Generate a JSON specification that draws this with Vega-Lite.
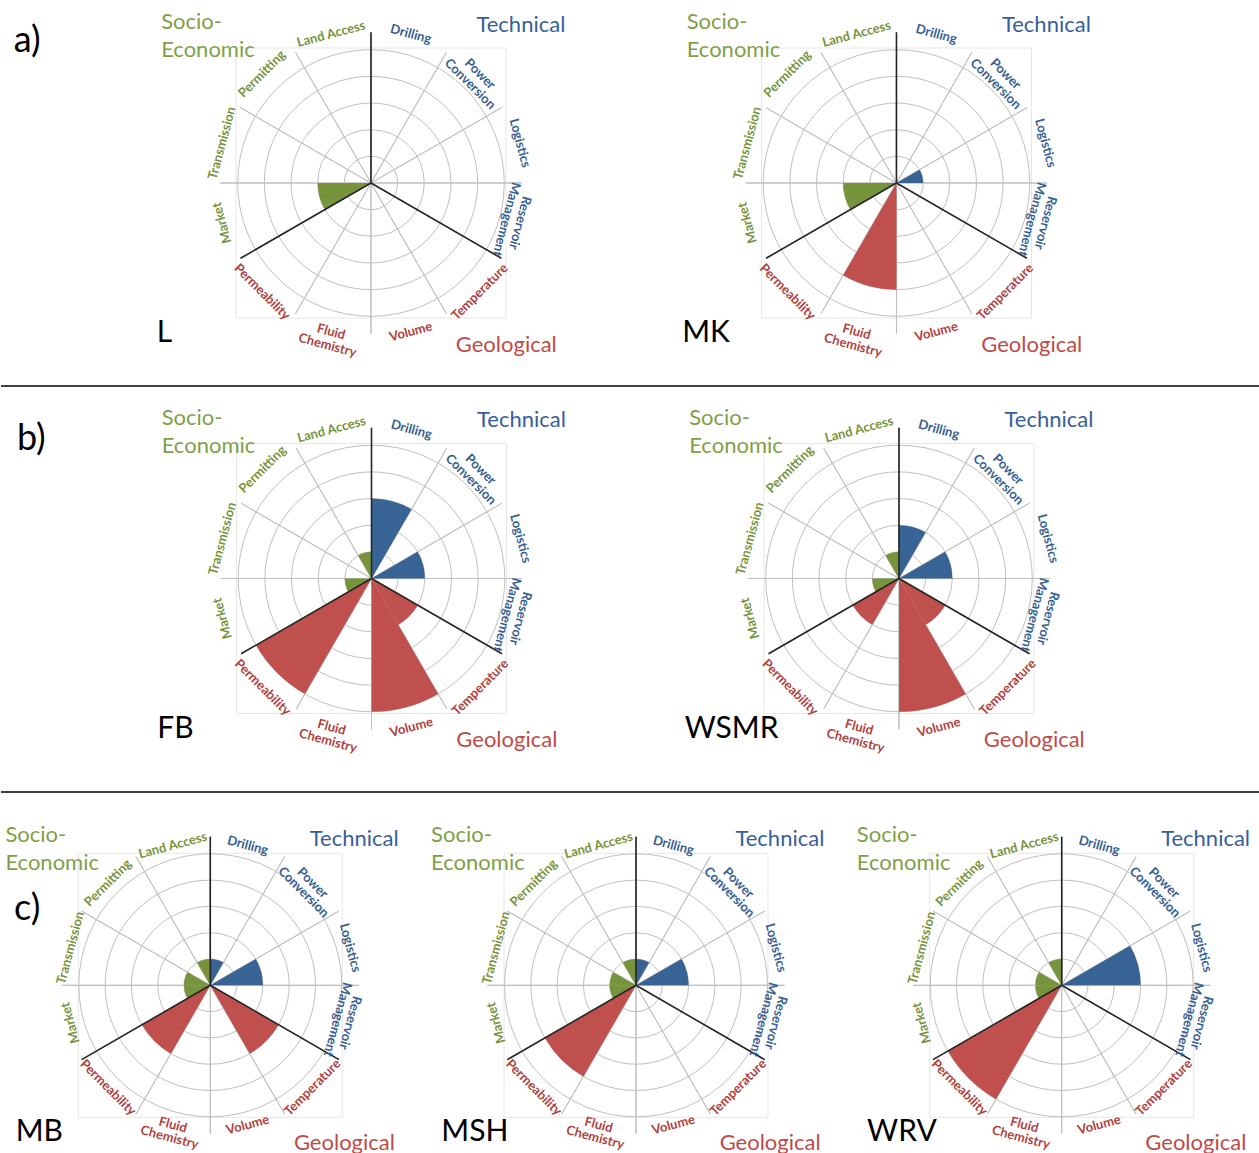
{
  "$schema": "https://vega.github.io/schema/vega-lite/v6.json",
  "background": "white",
  "padding": 0,
  "config": {"view": {"stroke": null}, "font": "Lato", "text": {"font": "Lato"}},
  "datasets": {
    "cats": [
      {"n": 1, "category": "Drilling", "label": "Drilling", "group": "Technical"},
      {"n": 2, "category": "Power Conversion", "label": "Power|Conversion", "group": "Technical"},
      {"n": 3, "category": "Logistics", "label": "Logistics", "group": "Technical"},
      {"n": 4, "category": "Reservoir Management", "label": "Reservoir|Management", "group": "Technical"},
      {"n": 5, "category": "Temperature", "label": "Temperature", "group": "Geological"},
      {"n": 6, "category": "Volume", "label": "Volume", "group": "Geological"},
      {"n": 7, "category": "Fluid Chemistry", "label": "Fluid|Chemistry", "group": "Geological"},
      {"n": 8, "category": "Permeability", "label": "Permeability", "group": "Geological"},
      {"n": 9, "category": "Market", "label": "Market", "group": "Socio-Economic"},
      {"n": 10, "category": "Transmission", "label": "Transmission", "group": "Socio-Economic"},
      {"n": 11, "category": "Permitting", "label": "Permitting", "group": "Socio-Economic"},
      {"n": 12, "category": "Land Access", "label": "Land Access", "group": "Socio-Economic"}
    ],
    "rings": [{"ring": 1}, {"ring": 2}, {"ring": 3}, {"ring": 4}, {"ring": 5}],
    "sites": [{"site": "L"}, {"site": "MK"}, {"site": "FB"}, {"site": "WSMR"}, {"site": "MB"}, {"site": "MSH"}, {"site": "WRV"}],
    "scores": [
      {"site": "L", "category": "Market", "score": 2},
      {"site": "MK", "category": "Logistics", "score": 1},
      {"site": "MK", "category": "Fluid Chemistry", "score": 4},
      {"site": "MK", "category": "Market", "score": 2},
      {"site": "FB", "category": "Drilling", "score": 3},
      {"site": "FB", "category": "Logistics", "score": 2},
      {"site": "FB", "category": "Temperature", "score": 2},
      {"site": "FB", "category": "Volume", "score": 5},
      {"site": "FB", "category": "Permeability", "score": 5},
      {"site": "FB", "category": "Market", "score": 1},
      {"site": "FB", "category": "Land Access", "score": 1},
      {"site": "WSMR", "category": "Drilling", "score": 2},
      {"site": "WSMR", "category": "Logistics", "score": 2},
      {"site": "WSMR", "category": "Temperature", "score": 2},
      {"site": "WSMR", "category": "Volume", "score": 5},
      {"site": "WSMR", "category": "Permeability", "score": 2},
      {"site": "WSMR", "category": "Market", "score": 1},
      {"site": "WSMR", "category": "Land Access", "score": 1},
      {"site": "MB", "category": "Drilling", "score": 1},
      {"site": "MB", "category": "Logistics", "score": 2},
      {"site": "MB", "category": "Temperature", "score": 3},
      {"site": "MB", "category": "Permeability", "score": 3},
      {"site": "MB", "category": "Market", "score": 1},
      {"site": "MB", "category": "Transmission", "score": 1},
      {"site": "MB", "category": "Land Access", "score": 1},
      {"site": "MSH", "category": "Drilling", "score": 1},
      {"site": "MSH", "category": "Logistics", "score": 2},
      {"site": "MSH", "category": "Permeability", "score": 4},
      {"site": "MSH", "category": "Market", "score": 1},
      {"site": "MSH", "category": "Transmission", "score": 1},
      {"site": "MSH", "category": "Land Access", "score": 1},
      {"site": "WRV", "category": "Logistics", "score": 3},
      {"site": "WRV", "category": "Permeability", "score": 5},
      {"site": "WRV", "category": "Market", "score": 1},
      {"site": "WRV", "category": "Transmission", "score": 1},
      {"site": "WRV", "category": "Land Access", "score": 1}
    ]
  },
  "spacing": 0,
  "vconcat": [
    {
      "width": 1259, "height": 386,
      "encoding": {"y": {"datum": 0, "type": "quantitative", "axis": null, "scale": {"domain": [-7.6125, 6.8625], "nice": false, "zero": false}}},
      "layer": [
        {"data": {"name": "sites"}, "transform": [{"filter": {"field": "site", "oneOf": ["L", "MK"]}}],
         "mark": {"type": "square", "size": 72900, "filled": false, "stroke": "#E6E6E6", "strokeWidth": 1, "opacity": 1},
         "encoding": {"x": {"field": "site", "type": "nominal", "axis": null, "scale": {"type": "point", "domain": ["L", "MK"], "padding": 0.6979, "align": 0.5044}}}},
        {"data": {"name": "rings"}, "mark": {"type": "arc", "theta": 0, "theta2": 6.283185, "fill": null, "stroke": "#BFBFBF", "strokeWidth": 1},
         "encoding": {"x": {"datum": "L", "type": "nominal", "axis": null, "scale": {"type": "point", "domain": ["L", "MK"], "padding": 0.6979, "align": 0.5044}}, "radius": {"field": "ring", "type": "quantitative", "stack": null, "scale": {"type": "linear", "domain": [0, 5], "range": [0, 133.3], "nice": false}}}},
        {"data": {"name": "rings"}, "mark": {"type": "arc", "theta": 0, "theta2": 6.283185, "fill": null, "stroke": "#BFBFBF", "strokeWidth": 1},
         "encoding": {"x": {"datum": "MK", "type": "nominal", "axis": null, "scale": {"type": "point", "domain": ["L", "MK"], "padding": 0.6979, "align": 0.5044}}, "radius": {"field": "ring", "type": "quantitative", "stack": null, "scale": {"type": "linear", "domain": [0, 5], "range": [0, 133.3], "nice": false}}}},
        {"data": {"name": "cats"}, "transform": [{"calculate": "datum.n - 1", "as": "n0"}], "mark": {"type": "arc", "fill": null, "stroke": "#BFBFBF", "strokeWidth": 1},
         "encoding": {"x": {"datum": "L", "type": "nominal", "axis": null, "scale": {"type": "point", "domain": ["L", "MK"], "padding": 0.6979, "align": 0.5044}}, "theta": {"field": "n0", "type": "quantitative", "stack": null, "scale": {"domain": [0, 12], "range": [0, 6.283185], "nice": false, "zero": false}}, "theta2": {"field": "n0"}, "radius": {"datum": 5.65, "type": "quantitative", "stack": null, "scale": {"type": "linear", "domain": [0, 5], "range": [0, 133.3], "nice": false}}}},
        {"data": {"name": "cats"}, "transform": [{"calculate": "datum.n - 1", "as": "n0"}], "mark": {"type": "arc", "fill": null, "stroke": "#BFBFBF", "strokeWidth": 1},
         "encoding": {"x": {"datum": "MK", "type": "nominal", "axis": null, "scale": {"type": "point", "domain": ["L", "MK"], "padding": 0.6979, "align": 0.5044}}, "theta": {"field": "n0", "type": "quantitative", "stack": null, "scale": {"domain": [0, 12], "range": [0, 6.283185], "nice": false, "zero": false}}, "theta2": {"field": "n0"}, "radius": {"datum": 5.65, "type": "quantitative", "stack": null, "scale": {"type": "linear", "domain": [0, 5], "range": [0, 133.3], "nice": false}}}},
        {"data": {"name": "scores"}, "transform": [{"filter": {"field": "site", "oneOf": ["L", "MK"]}}, {"lookup": "category", "from": {"data": {"name": "cats"}, "key": "category", "fields": ["n", "group"]}}, {"calculate": "datum.n - 1", "as": "n0"}],
         "mark": {"type": "arc"},
         "encoding": {"x": {"field": "site", "type": "nominal", "axis": null, "scale": {"type": "point", "domain": ["L", "MK"], "padding": 0.6979, "align": 0.5044}}, "theta": {"field": "n0", "type": "quantitative", "stack": null, "scale": {"domain": [0, 12], "range": [0, 6.283185], "nice": false, "zero": false}}, "theta2": {"field": "n"}, "radius": {"field": "score", "type": "quantitative", "stack": null, "scale": {"type": "linear", "domain": [0, 5], "range": [0, 133.3], "nice": false}}, "color": {"field": "group", "type": "nominal", "legend": null, "scale": {"domain": ["Technical", "Geological", "Socio-Economic"], "range": ["#386395", "#C0504D", "#77933C"]}}}},
        {"data": {"name": "cats"}, "transform": [{"filter": "datum.n % 4 === 1"}, {"calculate": "datum.n - 1", "as": "n0"}], "mark": {"type": "arc", "fill": null, "stroke": "#262626", "strokeWidth": 1.6},
         "encoding": {"x": {"datum": "L", "type": "nominal", "axis": null, "scale": {"type": "point", "domain": ["L", "MK"], "padding": 0.6979, "align": 0.5044}}, "theta": {"field": "n0", "type": "quantitative", "stack": null, "scale": {"domain": [0, 12], "range": [0, 6.283185], "nice": false, "zero": false}}, "theta2": {"field": "n0"}, "radius": {"datum": 5.65, "type": "quantitative", "stack": null, "scale": {"type": "linear", "domain": [0, 5], "range": [0, 133.3], "nice": false}}}},
        {"data": {"name": "cats"}, "transform": [{"filter": "datum.n % 4 === 1"}, {"calculate": "datum.n - 1", "as": "n0"}], "mark": {"type": "arc", "fill": null, "stroke": "#262626", "strokeWidth": 1.6},
         "encoding": {"x": {"datum": "MK", "type": "nominal", "axis": null, "scale": {"type": "point", "domain": ["L", "MK"], "padding": 0.6979, "align": 0.5044}}, "theta": {"field": "n0", "type": "quantitative", "stack": null, "scale": {"domain": [0, 12], "range": [0, 6.283185], "nice": false, "zero": false}}, "theta2": {"field": "n0"}, "radius": {"datum": 5.65, "type": "quantitative", "stack": null, "scale": {"type": "linear", "domain": [0, 5], "range": [0, 133.3], "nice": false}}}},
        {"data": {"name": "cats"}, "transform": [{"calculate": "datum.n * 30 - 15", "as": "deg"}, {"calculate": "datum.deg > 120 && datum.deg < 240 ? datum.deg - 180 : (datum.deg > 240 ? datum.deg - 360 : datum.deg)", "as": "rot"}, {"calculate": "datum.n - 0.5", "as": "nm"}],
         "mark": {"type": "text", "fontWeight": "bold", "fontSize": 13, "lineBreak": "|", "lineHeight": 14, "align": "center", "baseline": "middle"},
         "encoding": {"x": {"datum": "L", "type": "nominal", "axis": null, "scale": {"type": "point", "domain": ["L", "MK"], "padding": 0.6979, "align": 0.5044}}, "theta": {"field": "nm", "type": "quantitative", "stack": null, "scale": {"domain": [0, 12], "range": [0, 6.283185], "nice": false, "zero": false}}, "radius": {"datum": 5.78, "type": "quantitative", "stack": null, "scale": {"type": "linear", "domain": [0, 5], "range": [0, 133.3], "nice": false}}, "text": {"field": "label"}, "angle": {"field": "rot", "type": "quantitative", "scale": null}, "fill": {"field": "group", "type": "nominal", "legend": null, "scale": {"domain": ["Technical", "Geological", "Socio-Economic"], "range": ["#376092", "#B0413E", "#77933C"]}}}},
        {"data": {"name": "cats"}, "transform": [{"calculate": "datum.n * 30 - 15", "as": "deg"}, {"calculate": "datum.deg > 120 && datum.deg < 240 ? datum.deg - 180 : (datum.deg > 240 ? datum.deg - 360 : datum.deg)", "as": "rot"}, {"calculate": "datum.n - 0.5", "as": "nm"}],
         "mark": {"type": "text", "fontWeight": "bold", "fontSize": 13, "lineBreak": "|", "lineHeight": 14, "align": "center", "baseline": "middle"},
         "encoding": {"x": {"datum": "MK", "type": "nominal", "axis": null, "scale": {"type": "point", "domain": ["L", "MK"], "padding": 0.6979, "align": 0.5044}}, "theta": {"field": "nm", "type": "quantitative", "stack": null, "scale": {"domain": [0, 12], "range": [0, 6.283185], "nice": false, "zero": false}}, "radius": {"datum": 5.78, "type": "quantitative", "stack": null, "scale": {"type": "linear", "domain": [0, 5], "range": [0, 133.3], "nice": false}}, "text": {"field": "label"}, "angle": {"field": "rot", "type": "quantitative", "scale": null}, "fill": {"field": "group", "type": "nominal", "legend": null, "scale": {"domain": ["Technical", "Geological", "Socio-Economic"], "range": ["#376092", "#B0413E", "#77933C"]}}}},
        {"data": {"name": "sites"}, "transform": [{"filter": {"field": "site", "oneOf": ["L", "MK"]}}],
         "mark": {"type": "text", "text": "Socio-|Economic", "lineBreak": "|", "lineHeight": 28, "align": "left", "baseline": "alphabetic", "fontSize": 22, "color": "#7F9F48"},
         "encoding": {"x": {"field": "site", "type": "nominal", "axis": null, "scale": {"type": "point", "domain": ["L", "MK"], "padding": 0.6979, "align": 0.5044}}, "theta": {"datum": -1.7933, "type": "quantitative", "stack": null}, "radius": {"datum": 9.753, "type": "quantitative", "stack": null}}},
        {"data": {"name": "sites"}, "transform": [{"filter": {"field": "site", "oneOf": ["L", "MK"]}}],
         "mark": {"type": "text", "text": "Technical", "align": "right", "baseline": "alphabetic", "fontSize": 22, "color": "#36609A"},
         "encoding": {"x": {"field": "site", "type": "nominal", "axis": null, "scale": {"type": "point", "domain": ["L", "MK"], "padding": 0.6979, "align": 0.5044}}, "theta": {"datum": 1.7377, "type": "quantitative", "stack": null}, "radius": {"datum": 9.235, "type": "quantitative", "stack": null}}},
        {"data": {"name": "sites"}, "transform": [{"filter": {"field": "site", "oneOf": ["L", "MK"]}}],
         "mark": {"type": "text", "text": "Geological", "align": "right", "baseline": "alphabetic", "fontSize": 22, "color": "#BE4B48"},
         "encoding": {"x": {"field": "site", "type": "nominal", "axis": null, "scale": {"type": "point", "domain": ["L", "MK"], "padding": 0.6979, "align": 0.5044}}, "theta": {"datum": 4.4067, "type": "quantitative", "stack": null}, "radius": {"datum": 9.409, "type": "quantitative", "stack": null}}},
        {"data": {"name": "sites"}, "transform": [{"filter": {"field": "site", "oneOf": ["L", "MK"]}}],
         "mark": {"type": "text", "align": "left", "baseline": "alphabetic", "fontSize": 30, "color": "black"},
         "encoding": {"x": {"field": "site", "type": "nominal", "axis": null, "scale": {"type": "point", "domain": ["L", "MK"], "padding": 0.6979, "align": 0.5044}}, "theta": {"datum": -4.22, "type": "quantitative", "stack": null}, "radius": {"datum": 10.014, "type": "quantitative", "stack": null}, "text": {"field": "site"}}},
        {"data": {"values": [{}]},
         "mark": {"type": "text", "text": "a)", "align": "left", "baseline": "alphabetic", "fontSize": 36, "color": "black"},
         "encoding": {"x": {"datum": "L", "type": "nominal", "axis": null, "scale": {"type": "point", "domain": ["L", "MK"], "padding": 0.6979, "align": 0.5044}}, "theta": {"datum": -2.33, "type": "quantitative", "stack": null}, "radius": {"datum": 14.268, "type": "quantitative", "stack": null}}},
        {"data": {"values": [{}]}, "mark": {"type": "rule", "color": "black", "strokeWidth": 1.5},
         "encoding": {"y": {"datum": -7.6125, "type": "quantitative"}}}
      ]
    },
    {
      "width": 1259, "height": 405,
      "encoding": {"y": {"datum": 0, "type": "quantitative", "axis": null, "scale": {"domain": [-8.006, 7.181], "nice": false, "zero": false}}},
      "layer": [
        {"data": {"name": "sites"}, "transform": [{"filter": {"field": "site", "oneOf": ["FB", "WSMR"]}}],
         "mark": {"type": "square", "size": 72900, "filled": false, "stroke": "#E6E6E6", "strokeWidth": 1, "opacity": 1},
         "encoding": {"x": {"field": "site", "type": "nominal", "axis": null, "scale": {"type": "point", "domain": ["FB", "WSMR"], "padding": 0.6934, "align": 0.5065}}}},
        {"data": {"name": "rings"}, "mark": {"type": "arc", "theta": 0, "theta2": 6.283185, "fill": null, "stroke": "#BFBFBF", "strokeWidth": 1},
         "encoding": {"x": {"datum": "FB", "type": "nominal", "axis": null, "scale": {"type": "point", "domain": ["FB", "WSMR"], "padding": 0.6934, "align": 0.5065}}, "radius": {"field": "ring", "type": "quantitative", "stack": null, "scale": {"type": "linear", "domain": [0, 5], "range": [0, 133.3], "nice": false}}}},
        {"data": {"name": "rings"}, "mark": {"type": "arc", "theta": 0, "theta2": 6.283185, "fill": null, "stroke": "#BFBFBF", "strokeWidth": 1},
         "encoding": {"x": {"datum": "WSMR", "type": "nominal", "axis": null, "scale": {"type": "point", "domain": ["FB", "WSMR"], "padding": 0.6934, "align": 0.5065}}, "radius": {"field": "ring", "type": "quantitative", "stack": null, "scale": {"type": "linear", "domain": [0, 5], "range": [0, 133.3], "nice": false}}}},
        {"data": {"name": "cats"}, "transform": [{"calculate": "datum.n - 1", "as": "n0"}], "mark": {"type": "arc", "fill": null, "stroke": "#BFBFBF", "strokeWidth": 1},
         "encoding": {"x": {"datum": "FB", "type": "nominal", "axis": null, "scale": {"type": "point", "domain": ["FB", "WSMR"], "padding": 0.6934, "align": 0.5065}}, "theta": {"field": "n0", "type": "quantitative", "stack": null, "scale": {"domain": [0, 12], "range": [0, 6.283185], "nice": false, "zero": false}}, "theta2": {"field": "n0"}, "radius": {"datum": 5.65, "type": "quantitative", "stack": null, "scale": {"type": "linear", "domain": [0, 5], "range": [0, 133.3], "nice": false}}}},
        {"data": {"name": "cats"}, "transform": [{"calculate": "datum.n - 1", "as": "n0"}], "mark": {"type": "arc", "fill": null, "stroke": "#BFBFBF", "strokeWidth": 1},
         "encoding": {"x": {"datum": "WSMR", "type": "nominal", "axis": null, "scale": {"type": "point", "domain": ["FB", "WSMR"], "padding": 0.6934, "align": 0.5065}}, "theta": {"field": "n0", "type": "quantitative", "stack": null, "scale": {"domain": [0, 12], "range": [0, 6.283185], "nice": false, "zero": false}}, "theta2": {"field": "n0"}, "radius": {"datum": 5.65, "type": "quantitative", "stack": null, "scale": {"type": "linear", "domain": [0, 5], "range": [0, 133.3], "nice": false}}}},
        {"data": {"name": "scores"}, "transform": [{"filter": {"field": "site", "oneOf": ["FB", "WSMR"]}}, {"lookup": "category", "from": {"data": {"name": "cats"}, "key": "category", "fields": ["n", "group"]}}, {"calculate": "datum.n - 1", "as": "n0"}],
         "mark": {"type": "arc"},
         "encoding": {"x": {"field": "site", "type": "nominal", "axis": null, "scale": {"type": "point", "domain": ["FB", "WSMR"], "padding": 0.6934, "align": 0.5065}}, "theta": {"field": "n0", "type": "quantitative", "stack": null, "scale": {"domain": [0, 12], "range": [0, 6.283185], "nice": false, "zero": false}}, "theta2": {"field": "n"}, "radius": {"field": "score", "type": "quantitative", "stack": null, "scale": {"type": "linear", "domain": [0, 5], "range": [0, 133.3], "nice": false}}, "color": {"field": "group", "type": "nominal", "legend": null, "scale": {"domain": ["Technical", "Geological", "Socio-Economic"], "range": ["#386395", "#C0504D", "#77933C"]}}}},
        {"data": {"name": "cats"}, "transform": [{"filter": "datum.n % 4 === 1"}, {"calculate": "datum.n - 1", "as": "n0"}], "mark": {"type": "arc", "fill": null, "stroke": "#262626", "strokeWidth": 1.6},
         "encoding": {"x": {"datum": "FB", "type": "nominal", "axis": null, "scale": {"type": "point", "domain": ["FB", "WSMR"], "padding": 0.6934, "align": 0.5065}}, "theta": {"field": "n0", "type": "quantitative", "stack": null, "scale": {"domain": [0, 12], "range": [0, 6.283185], "nice": false, "zero": false}}, "theta2": {"field": "n0"}, "radius": {"datum": 5.65, "type": "quantitative", "stack": null, "scale": {"type": "linear", "domain": [0, 5], "range": [0, 133.3], "nice": false}}}},
        {"data": {"name": "cats"}, "transform": [{"filter": "datum.n % 4 === 1"}, {"calculate": "datum.n - 1", "as": "n0"}], "mark": {"type": "arc", "fill": null, "stroke": "#262626", "strokeWidth": 1.6},
         "encoding": {"x": {"datum": "WSMR", "type": "nominal", "axis": null, "scale": {"type": "point", "domain": ["FB", "WSMR"], "padding": 0.6934, "align": 0.5065}}, "theta": {"field": "n0", "type": "quantitative", "stack": null, "scale": {"domain": [0, 12], "range": [0, 6.283185], "nice": false, "zero": false}}, "theta2": {"field": "n0"}, "radius": {"datum": 5.65, "type": "quantitative", "stack": null, "scale": {"type": "linear", "domain": [0, 5], "range": [0, 133.3], "nice": false}}}},
        {"data": {"name": "cats"}, "transform": [{"calculate": "datum.n * 30 - 15", "as": "deg"}, {"calculate": "datum.deg > 120 && datum.deg < 240 ? datum.deg - 180 : (datum.deg > 240 ? datum.deg - 360 : datum.deg)", "as": "rot"}, {"calculate": "datum.n - 0.5", "as": "nm"}],
         "mark": {"type": "text", "fontWeight": "bold", "fontSize": 13, "lineBreak": "|", "lineHeight": 14, "align": "center", "baseline": "middle"},
         "encoding": {"x": {"datum": "FB", "type": "nominal", "axis": null, "scale": {"type": "point", "domain": ["FB", "WSMR"], "padding": 0.6934, "align": 0.5065}}, "theta": {"field": "nm", "type": "quantitative", "stack": null, "scale": {"domain": [0, 12], "range": [0, 6.283185], "nice": false, "zero": false}}, "radius": {"datum": 5.78, "type": "quantitative", "stack": null, "scale": {"type": "linear", "domain": [0, 5], "range": [0, 133.3], "nice": false}}, "text": {"field": "label"}, "angle": {"field": "rot", "type": "quantitative", "scale": null}, "fill": {"field": "group", "type": "nominal", "legend": null, "scale": {"domain": ["Technical", "Geological", "Socio-Economic"], "range": ["#376092", "#B0413E", "#77933C"]}}}},
        {"data": {"name": "cats"}, "transform": [{"calculate": "datum.n * 30 - 15", "as": "deg"}, {"calculate": "datum.deg > 120 && datum.deg < 240 ? datum.deg - 180 : (datum.deg > 240 ? datum.deg - 360 : datum.deg)", "as": "rot"}, {"calculate": "datum.n - 0.5", "as": "nm"}],
         "mark": {"type": "text", "fontWeight": "bold", "fontSize": 13, "lineBreak": "|", "lineHeight": 14, "align": "center", "baseline": "middle"},
         "encoding": {"x": {"datum": "WSMR", "type": "nominal", "axis": null, "scale": {"type": "point", "domain": ["FB", "WSMR"], "padding": 0.6934, "align": 0.5065}}, "theta": {"field": "nm", "type": "quantitative", "stack": null, "scale": {"domain": [0, 12], "range": [0, 6.283185], "nice": false, "zero": false}}, "radius": {"datum": 5.78, "type": "quantitative", "stack": null, "scale": {"type": "linear", "domain": [0, 5], "range": [0, 133.3], "nice": false}}, "text": {"field": "label"}, "angle": {"field": "rot", "type": "quantitative", "scale": null}, "fill": {"field": "group", "type": "nominal", "legend": null, "scale": {"domain": ["Technical", "Geological", "Socio-Economic"], "range": ["#376092", "#B0413E", "#77933C"]}}}},
        {"data": {"name": "sites"}, "transform": [{"filter": {"field": "site", "oneOf": ["FB", "WSMR"]}}],
         "mark": {"type": "text", "text": "Socio-|Economic", "lineBreak": "|", "lineHeight": 28, "align": "left", "baseline": "alphabetic", "fontSize": 22, "color": "#7F9F48"},
         "encoding": {"x": {"field": "site", "type": "nominal", "axis": null, "scale": {"type": "point", "domain": ["FB", "WSMR"], "padding": 0.6934, "align": 0.5065}}, "theta": {"datum": -1.7933, "type": "quantitative", "stack": null}, "radius": {"datum": 9.753, "type": "quantitative", "stack": null}}},
        {"data": {"name": "sites"}, "transform": [{"filter": {"field": "site", "oneOf": ["FB", "WSMR"]}}],
         "mark": {"type": "text", "text": "Technical", "align": "right", "baseline": "alphabetic", "fontSize": 22, "color": "#36609A"},
         "encoding": {"x": {"field": "site", "type": "nominal", "axis": null, "scale": {"type": "point", "domain": ["FB", "WSMR"], "padding": 0.6934, "align": 0.5065}}, "theta": {"datum": 1.7377, "type": "quantitative", "stack": null}, "radius": {"datum": 9.235, "type": "quantitative", "stack": null}}},
        {"data": {"name": "sites"}, "transform": [{"filter": {"field": "site", "oneOf": ["FB", "WSMR"]}}],
         "mark": {"type": "text", "text": "Geological", "align": "right", "baseline": "alphabetic", "fontSize": 22, "color": "#BE4B48"},
         "encoding": {"x": {"field": "site", "type": "nominal", "axis": null, "scale": {"type": "point", "domain": ["FB", "WSMR"], "padding": 0.6934, "align": 0.5065}}, "theta": {"datum": 4.4067, "type": "quantitative", "stack": null}, "radius": {"datum": 9.409, "type": "quantitative", "stack": null}}},
        {"data": {"name": "sites"}, "transform": [{"filter": {"field": "site", "oneOf": ["FB", "WSMR"]}}],
         "mark": {"type": "text", "align": "left", "baseline": "alphabetic", "fontSize": 30, "color": "black"},
         "encoding": {"x": {"field": "site", "type": "nominal", "axis": null, "scale": {"type": "point", "domain": ["FB", "WSMR"], "padding": 0.6934, "align": 0.5065}}, "theta": {"datum": -4.22, "type": "quantitative", "stack": null}, "radius": {"datum": 10.014, "type": "quantitative", "stack": null}, "text": {"field": "site"}}},
        {"data": {"values": [{}]},
         "mark": {"type": "text", "text": "b)", "align": "left", "baseline": "alphabetic", "fontSize": 36, "color": "black"},
         "encoding": {"x": {"datum": "FB", "type": "nominal", "axis": null, "scale": {"type": "point", "domain": ["FB", "WSMR"], "padding": 0.6934, "align": 0.5065}}, "theta": {"datum": -2.336, "type": "quantitative", "stack": null}, "radius": {"datum": 14.146, "type": "quantitative", "stack": null}}},
        {"data": {"values": [{}]}, "mark": {"type": "rule", "color": "black", "strokeWidth": 1.5},
         "encoding": {"y": {"datum": -8.006, "type": "quantitative"}}}
      ]
    },
    {
      "width": 1259, "height": 362,
      "encoding": {"y": {"datum": 0, "type": "quantitative", "axis": null, "scale": {"domain": [-6.452, 7.312], "nice": false, "zero": false}}},
      "layer": [
        {"data": {"name": "sites"}, "transform": [{"filter": {"field": "site", "oneOf": ["MB", "MSH", "WRV"]}}],
         "mark": {"type": "square", "size": 69696, "filled": false, "stroke": "#E6E6E6", "strokeWidth": 1, "opacity": 1},
         "encoding": {"x": {"field": "site", "type": "nominal", "axis": null, "scale": {"type": "point", "domain": ["MB", "MSH", "WRV"], "padding": 0.4787, "align": 0.5135}}}},
        {"data": {"name": "rings"}, "mark": {"type": "arc", "theta": 0, "theta2": 6.283185, "fill": null, "stroke": "#BFBFBF", "strokeWidth": 1},
         "encoding": {"x": {"datum": "MB", "type": "nominal", "axis": null, "scale": {"type": "point", "domain": ["MB", "MSH", "WRV"], "padding": 0.4787, "align": 0.5135}}, "radius": {"field": "ring", "type": "quantitative", "stack": null, "scale": {"type": "linear", "domain": [0, 5], "range": [0, 131.5], "nice": false}}}},
        {"data": {"name": "rings"}, "mark": {"type": "arc", "theta": 0, "theta2": 6.283185, "fill": null, "stroke": "#BFBFBF", "strokeWidth": 1},
         "encoding": {"x": {"datum": "MSH", "type": "nominal", "axis": null, "scale": {"type": "point", "domain": ["MB", "MSH", "WRV"], "padding": 0.4787, "align": 0.5135}}, "radius": {"field": "ring", "type": "quantitative", "stack": null, "scale": {"type": "linear", "domain": [0, 5], "range": [0, 131.5], "nice": false}}}},
        {"data": {"name": "rings"}, "mark": {"type": "arc", "theta": 0, "theta2": 6.283185, "fill": null, "stroke": "#BFBFBF", "strokeWidth": 1},
         "encoding": {"x": {"datum": "WRV", "type": "nominal", "axis": null, "scale": {"type": "point", "domain": ["MB", "MSH", "WRV"], "padding": 0.4787, "align": 0.5135}}, "radius": {"field": "ring", "type": "quantitative", "stack": null, "scale": {"type": "linear", "domain": [0, 5], "range": [0, 131.5], "nice": false}}}},
        {"data": {"name": "cats"}, "transform": [{"calculate": "datum.n - 1", "as": "n0"}], "mark": {"type": "arc", "fill": null, "stroke": "#BFBFBF", "strokeWidth": 1},
         "encoding": {"x": {"datum": "MB", "type": "nominal", "axis": null, "scale": {"type": "point", "domain": ["MB", "MSH", "WRV"], "padding": 0.4787, "align": 0.5135}}, "theta": {"field": "n0", "type": "quantitative", "stack": null, "scale": {"domain": [0, 12], "range": [0, 6.283185], "nice": false, "zero": false}}, "theta2": {"field": "n0"}, "radius": {"datum": 5.65, "type": "quantitative", "stack": null, "scale": {"type": "linear", "domain": [0, 5], "range": [0, 131.5], "nice": false}}}},
        {"data": {"name": "cats"}, "transform": [{"calculate": "datum.n - 1", "as": "n0"}], "mark": {"type": "arc", "fill": null, "stroke": "#BFBFBF", "strokeWidth": 1},
         "encoding": {"x": {"datum": "MSH", "type": "nominal", "axis": null, "scale": {"type": "point", "domain": ["MB", "MSH", "WRV"], "padding": 0.4787, "align": 0.5135}}, "theta": {"field": "n0", "type": "quantitative", "stack": null, "scale": {"domain": [0, 12], "range": [0, 6.283185], "nice": false, "zero": false}}, "theta2": {"field": "n0"}, "radius": {"datum": 5.65, "type": "quantitative", "stack": null, "scale": {"type": "linear", "domain": [0, 5], "range": [0, 131.5], "nice": false}}}},
        {"data": {"name": "cats"}, "transform": [{"calculate": "datum.n - 1", "as": "n0"}], "mark": {"type": "arc", "fill": null, "stroke": "#BFBFBF", "strokeWidth": 1},
         "encoding": {"x": {"datum": "WRV", "type": "nominal", "axis": null, "scale": {"type": "point", "domain": ["MB", "MSH", "WRV"], "padding": 0.4787, "align": 0.5135}}, "theta": {"field": "n0", "type": "quantitative", "stack": null, "scale": {"domain": [0, 12], "range": [0, 6.283185], "nice": false, "zero": false}}, "theta2": {"field": "n0"}, "radius": {"datum": 5.65, "type": "quantitative", "stack": null, "scale": {"type": "linear", "domain": [0, 5], "range": [0, 131.5], "nice": false}}}},
        {"data": {"name": "scores"}, "transform": [{"filter": {"field": "site", "oneOf": ["MB", "MSH", "WRV"]}}, {"lookup": "category", "from": {"data": {"name": "cats"}, "key": "category", "fields": ["n", "group"]}}, {"calculate": "datum.n - 1", "as": "n0"}],
         "mark": {"type": "arc"},
         "encoding": {"x": {"field": "site", "type": "nominal", "axis": null, "scale": {"type": "point", "domain": ["MB", "MSH", "WRV"], "padding": 0.4787, "align": 0.5135}}, "theta": {"field": "n0", "type": "quantitative", "stack": null, "scale": {"domain": [0, 12], "range": [0, 6.283185], "nice": false, "zero": false}}, "theta2": {"field": "n"}, "radius": {"field": "score", "type": "quantitative", "stack": null, "scale": {"type": "linear", "domain": [0, 5], "range": [0, 131.5], "nice": false}}, "color": {"field": "group", "type": "nominal", "legend": null, "scale": {"domain": ["Technical", "Geological", "Socio-Economic"], "range": ["#386395", "#C0504D", "#77933C"]}}}},
        {"data": {"name": "cats"}, "transform": [{"filter": "datum.n % 4 === 1"}, {"calculate": "datum.n - 1", "as": "n0"}], "mark": {"type": "arc", "fill": null, "stroke": "#262626", "strokeWidth": 1.6},
         "encoding": {"x": {"datum": "MB", "type": "nominal", "axis": null, "scale": {"type": "point", "domain": ["MB", "MSH", "WRV"], "padding": 0.4787, "align": 0.5135}}, "theta": {"field": "n0", "type": "quantitative", "stack": null, "scale": {"domain": [0, 12], "range": [0, 6.283185], "nice": false, "zero": false}}, "theta2": {"field": "n0"}, "radius": {"datum": 5.65, "type": "quantitative", "stack": null, "scale": {"type": "linear", "domain": [0, 5], "range": [0, 131.5], "nice": false}}}},
        {"data": {"name": "cats"}, "transform": [{"filter": "datum.n % 4 === 1"}, {"calculate": "datum.n - 1", "as": "n0"}], "mark": {"type": "arc", "fill": null, "stroke": "#262626", "strokeWidth": 1.6},
         "encoding": {"x": {"datum": "MSH", "type": "nominal", "axis": null, "scale": {"type": "point", "domain": ["MB", "MSH", "WRV"], "padding": 0.4787, "align": 0.5135}}, "theta": {"field": "n0", "type": "quantitative", "stack": null, "scale": {"domain": [0, 12], "range": [0, 6.283185], "nice": false, "zero": false}}, "theta2": {"field": "n0"}, "radius": {"datum": 5.65, "type": "quantitative", "stack": null, "scale": {"type": "linear", "domain": [0, 5], "range": [0, 131.5], "nice": false}}}},
        {"data": {"name": "cats"}, "transform": [{"filter": "datum.n % 4 === 1"}, {"calculate": "datum.n - 1", "as": "n0"}], "mark": {"type": "arc", "fill": null, "stroke": "#262626", "strokeWidth": 1.6},
         "encoding": {"x": {"datum": "WRV", "type": "nominal", "axis": null, "scale": {"type": "point", "domain": ["MB", "MSH", "WRV"], "padding": 0.4787, "align": 0.5135}}, "theta": {"field": "n0", "type": "quantitative", "stack": null, "scale": {"domain": [0, 12], "range": [0, 6.283185], "nice": false, "zero": false}}, "theta2": {"field": "n0"}, "radius": {"datum": 5.65, "type": "quantitative", "stack": null, "scale": {"type": "linear", "domain": [0, 5], "range": [0, 131.5], "nice": false}}}},
        {"data": {"name": "cats"}, "transform": [{"calculate": "datum.n * 30 - 15", "as": "deg"}, {"calculate": "datum.deg > 120 && datum.deg < 240 ? datum.deg - 180 : (datum.deg > 240 ? datum.deg - 360 : datum.deg)", "as": "rot"}, {"calculate": "datum.n - 0.5", "as": "nm"}],
         "mark": {"type": "text", "fontWeight": "bold", "fontSize": 13, "lineBreak": "|", "lineHeight": 13, "align": "center", "baseline": "middle"},
         "encoding": {"x": {"datum": "MB", "type": "nominal", "axis": null, "scale": {"type": "point", "domain": ["MB", "MSH", "WRV"], "padding": 0.4787, "align": 0.5135}}, "theta": {"field": "nm", "type": "quantitative", "stack": null, "scale": {"domain": [0, 12], "range": [0, 6.283185], "nice": false, "zero": false}}, "radius": {"datum": 5.5, "type": "quantitative", "stack": null, "scale": {"type": "linear", "domain": [0, 5], "range": [0, 131.5], "nice": false}}, "text": {"field": "label"}, "angle": {"field": "rot", "type": "quantitative", "scale": null}, "fill": {"field": "group", "type": "nominal", "legend": null, "scale": {"domain": ["Technical", "Geological", "Socio-Economic"], "range": ["#376092", "#B0413E", "#77933C"]}}}},
        {"data": {"name": "cats"}, "transform": [{"calculate": "datum.n * 30 - 15", "as": "deg"}, {"calculate": "datum.deg > 120 && datum.deg < 240 ? datum.deg - 180 : (datum.deg > 240 ? datum.deg - 360 : datum.deg)", "as": "rot"}, {"calculate": "datum.n - 0.5", "as": "nm"}],
         "mark": {"type": "text", "fontWeight": "bold", "fontSize": 13, "lineBreak": "|", "lineHeight": 13, "align": "center", "baseline": "middle"},
         "encoding": {"x": {"datum": "MSH", "type": "nominal", "axis": null, "scale": {"type": "point", "domain": ["MB", "MSH", "WRV"], "padding": 0.4787, "align": 0.5135}}, "theta": {"field": "nm", "type": "quantitative", "stack": null, "scale": {"domain": [0, 12], "range": [0, 6.283185], "nice": false, "zero": false}}, "radius": {"datum": 5.5, "type": "quantitative", "stack": null, "scale": {"type": "linear", "domain": [0, 5], "range": [0, 131.5], "nice": false}}, "text": {"field": "label"}, "angle": {"field": "rot", "type": "quantitative", "scale": null}, "fill": {"field": "group", "type": "nominal", "legend": null, "scale": {"domain": ["Technical", "Geological", "Socio-Economic"], "range": ["#376092", "#B0413E", "#77933C"]}}}},
        {"data": {"name": "cats"}, "transform": [{"calculate": "datum.n * 30 - 15", "as": "deg"}, {"calculate": "datum.deg > 120 && datum.deg < 240 ? datum.deg - 180 : (datum.deg > 240 ? datum.deg - 360 : datum.deg)", "as": "rot"}, {"calculate": "datum.n - 0.5", "as": "nm"}],
         "mark": {"type": "text", "fontWeight": "bold", "fontSize": 13, "lineBreak": "|", "lineHeight": 13, "align": "center", "baseline": "middle"},
         "encoding": {"x": {"datum": "WRV", "type": "nominal", "axis": null, "scale": {"type": "point", "domain": ["MB", "MSH", "WRV"], "padding": 0.4787, "align": 0.5135}}, "theta": {"field": "nm", "type": "quantitative", "stack": null, "scale": {"domain": [0, 12], "range": [0, 6.283185], "nice": false, "zero": false}}, "radius": {"datum": 5.5, "type": "quantitative", "stack": null, "scale": {"type": "linear", "domain": [0, 5], "range": [0, 131.5], "nice": false}}, "text": {"field": "label"}, "angle": {"field": "rot", "type": "quantitative", "scale": null}, "fill": {"field": "group", "type": "nominal", "legend": null, "scale": {"domain": ["Technical", "Geological", "Socio-Economic"], "range": ["#376092", "#B0413E", "#77933C"]}}}},
        {"data": {"name": "sites"}, "transform": [{"filter": {"field": "site", "oneOf": ["MB", "MSH", "WRV"]}}],
         "mark": {"type": "text", "text": "Socio-|Economic", "lineBreak": "|", "lineHeight": 28, "align": "left", "baseline": "alphabetic", "fontSize": 22, "color": "#7F9F48"},
         "encoding": {"x": {"field": "site", "type": "nominal", "axis": null, "scale": {"type": "point", "domain": ["MB", "MSH", "WRV"], "padding": 0.4787, "align": 0.5135}}, "theta": {"datum": -1.8343, "type": "quantitative", "stack": null}, "radius": {"datum": 9.507, "type": "quantitative", "stack": null}}},
        {"data": {"name": "sites"}, "transform": [{"filter": {"field": "site", "oneOf": ["MB", "MSH", "WRV"]}}],
         "mark": {"type": "text", "text": "Technical", "align": "right", "baseline": "alphabetic", "fontSize": 22, "color": "#36609A"},
         "encoding": {"x": {"field": "site", "type": "nominal", "axis": null, "scale": {"type": "point", "domain": ["MB", "MSH", "WRV"], "padding": 0.4787, "align": 0.5135}}, "theta": {"datum": 1.7813, "type": "quantitative", "stack": null}, "radius": {"datum": 8.915, "type": "quantitative", "stack": null}}},
        {"data": {"name": "sites"}, "transform": [{"filter": {"field": "site", "oneOf": ["MB", "MSH", "WRV"]}}],
         "mark": {"type": "text", "text": "Geological", "align": "right", "baseline": "alphabetic", "fontSize": 22, "color": "#BE4B48"},
         "encoding": {"x": {"field": "site", "type": "nominal", "axis": null, "scale": {"type": "point", "domain": ["MB", "MSH", "WRV"], "padding": 0.4787, "align": 0.5135}}, "theta": {"datum": 4.3893, "type": "quantitative", "stack": null}, "radius": {"datum": 9.399, "type": "quantitative", "stack": null}}},
        {"data": {"name": "sites"}, "transform": [{"filter": {"field": "site", "oneOf": ["MB", "MSH", "WRV"]}}],
         "mark": {"type": "text", "align": "left", "baseline": "alphabetic", "fontSize": 30, "color": "black"},
         "encoding": {"x": {"field": "site", "type": "nominal", "axis": null, "scale": {"type": "point", "domain": ["MB", "MSH", "WRV"], "padding": 0.4787, "align": 0.5135}}, "theta": {"datum": -4.29, "type": "quantitative", "stack": null}, "radius": {"datum": 9.483, "type": "quantitative", "stack": null}, "text": {"field": "site"}}},
        {"data": {"values": [{}]},
         "mark": {"type": "text", "text": "c)", "align": "left", "baseline": "alphabetic", "fontSize": 36, "color": "black"},
         "encoding": {"x": {"datum": "MB", "type": "nominal", "axis": null, "scale": {"type": "point", "domain": ["MB", "MSH", "WRV"], "padding": 0.4787, "align": 0.5135}}, "theta": {"datum": -2.387, "type": "quantitative", "stack": null}, "radius": {"datum": 7.861, "type": "quantitative", "stack": null}}}
      ]
    }
  ]
}
